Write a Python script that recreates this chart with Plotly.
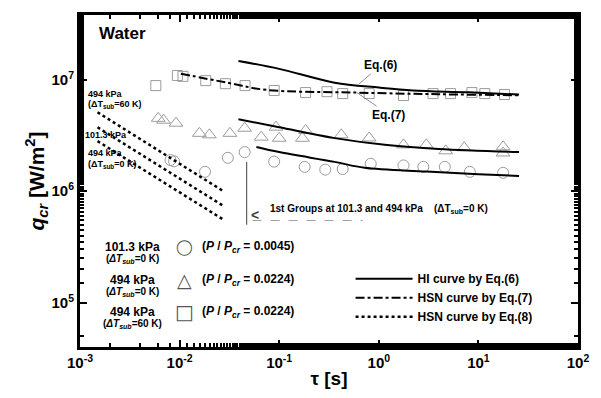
import plotly.graph_objects as go

# ---------------- data ----------------
tau_circle = [0.0081, 0.0088, 0.018, 0.0305, 0.045, 0.089, 0.18, 0.29, 0.434, 0.83, 1.77, 2.8, 4.6, 8.2, 17.7]
q_circle = [1.9e6, 1.85e6, 1.49e6, 1.99e6, 2.24e6, 1.84e6, 1.65e6, 1.56e6, 1.58e6, 1.76e6, 1.7e6, 1.65e6, 1.65e6, 1.49e6, 1.46e6]

tau_tri = [0.0061, 0.0069, 0.0092, 0.0158, 0.0199, 0.032, 0.045, 0.066, 0.093, 0.1, 0.171, 0.184,
           0.42, 0.8, 1.77, 3.0, 4.7, 7.2, 17.7, 17.7]
q_tri = [4.5e6, 4.33e6, 4.07e6, 3.3e6, 3.2e6, 3.3e6, 3.67e6, 3.05e6, 3.75e6, 2.98e6, 2.98e6, 3.5e6,
         3.2e6, 3.0e6, 2.6e6, 2.6e6, 2.3e6, 2.45e6, 2.2e6, 2.5e6]

tau_sq = [0.00577, 0.0095, 0.0108, 0.0183, 0.0288, 0.0454, 0.089, 0.184, 0.302, 0.434, 0.80, 1.77,
          3.5, 5.25, 8.6, 11.6, 18.3]
q_sq = [8.85e6, 1.09e7, 1.07e7, 9.8e6, 9.2e6, 8.85e6, 8.0e6, 7.66e6, 7.8e6, 7.5e6, 7.5e6, 7.2e6,
        7.5e6, 7.5e6, 7.66e6, 7.5e6, 7.36e6]

# HI curves, Eq.(6)
tau_hi_60 = [0.039, 0.1, 0.36, 1.0, 2.2, 8.0, 25.6]
q_hi_60 = [1.47e7, 1.25e7, 9.4e6, 8.5e6, 8.0e6, 7.7e6, 7.35e6]
tau_hi_494 = [0.039, 0.1, 0.36, 1.21, 4.0, 25.6]
q_hi_494 = [4.41e6, 3.74e6, 2.99e6, 2.59e6, 2.39e6, 2.24e6]
tau_hi_101 = [0.059, 0.1, 0.36, 0.72, 3.0, 10.0, 25.6]
q_hi_101 = [2.49e6, 2.24e6, 1.83e6, 1.62e6, 1.5e6, 1.42e6, 1.37e6]

# HSN curve, Eq.(7)
tau_hsn7 = [0.0103, 0.03, 0.074, 0.57, 4.0, 25.6]
q_hsn7 = [1.13e7, 9.4e6, 8.1e6, 7.66e6, 7.4e6, 7.25e6]

# HSN curves, Eq.(8)
tau_hsn8 = [0.0015, 0.028]
q_hsn8_60 = [5.1e6, 9.9e5]
q_hsn8_101 = [3.74e6, 7.3e5]
q_hsn8_494 = [2.81e6, 5.5e5]

# "1st Groups" marker line
tau_first = [0.0471, 0.0471]
q_first = [1.83e6, 5.0e5]
tau_arrow = [0.054, 0.69]
q_arrow = [5.45e5, 5.45e5]

# label anchor points on the curves (log10 tau, log10 q)
eq6_point = (-0.2, 6.96)
eq7_point = (-0.22, 6.884)

x_tickvals = [1e-3, 1e-2, 1e-1, 1e0, 1e1, 1e2]
x_ticktext = ["10<sup>-3</sup>", "10<sup>-2</sup>", "10<sup>-1</sup>", "10<sup>0</sup>",
              "10<sup>1</sup>", "10<sup>2</sup>"]
y_tickvals = [1e5, 1e6, 1e7]
y_ticktext = ["10<sup>5</sup>", "10<sup>6</sup>", "10<sup>7</sup>"]

# ---------------- layout helpers ----------------
W, H = 601, 398
L, R, T, B = 80, 13, 14, 51
PW, PH = W - L - R, H - T - B


def px(x):
    return (x - L) / PW


def py(y):
    return (H - B - y) / PH


FONT = "Liberation Sans, Arial, sans-serif"
GREY = "#9c9c9c"

fig = go.Figure()

mk = dict(color=GREY, line=dict(color=GREY, width=1))
fig.add_trace(go.Scatter(x=tau_circle, y=q_circle, mode="markers", showlegend=False,
                         marker=dict(symbol="circle-open", size=11, **mk)))
fig.add_trace(go.Scatter(x=tau_tri, y=q_tri, mode="markers", showlegend=False,
                         marker=dict(symbol="triangle-up-open", size=12, **mk)))
fig.add_trace(go.Scatter(x=tau_sq, y=q_sq, mode="markers", showlegend=False,
                         marker=dict(symbol="square-open", size=10, **mk)))

solid = dict(color="black", width=2, shape="spline")
fig.add_trace(go.Scatter(x=tau_hi_60, y=q_hi_60, mode="lines", line=solid,
                         name="<b>HI curve by Eq.(6)</b>", legendrank=1))
fig.add_trace(go.Scatter(x=tau_hi_494, y=q_hi_494, mode="lines", line=solid, showlegend=False))
fig.add_trace(go.Scatter(x=tau_hi_101, y=q_hi_101, mode="lines", line=solid, showlegend=False))
fig.add_trace(go.Scatter(x=tau_hsn7, y=q_hsn7, mode="lines",
                         line=dict(color="black", width=2, dash="dashdot", shape="spline"),
                         name="<b>HSN curve by Eq.(7)</b>", legendrank=2))
dot = dict(color="black", width=2.5, dash="dot")
fig.add_trace(go.Scatter(x=tau_hsn8, y=q_hsn8_60, mode="lines", line=dot,
                         name="<b>HSN curve by Eq.(8)</b>", legendrank=3))
fig.add_trace(go.Scatter(x=tau_hsn8, y=q_hsn8_101, mode="lines", line=dot, showlegend=False))
fig.add_trace(go.Scatter(x=tau_hsn8, y=q_hsn8_494, mode="lines", line=dot, showlegend=False))

fig.add_trace(go.Scatter(x=tau_first, y=q_first, mode="lines", showlegend=False,
                         line=dict(color="#606060", width=1.2)))
fig.add_trace(go.Scatter(x=tau_arrow, y=q_arrow, mode="lines", showlegend=False,
                         line=dict(color="#a0a0a0", width=1, dash="dash")))

ann = []


def text(x, y, s, size, xanchor="left", color="black", family=FONT):
    ann.append(dict(xref="paper", yref="paper", x=px(x), y=py(y), text=s, showarrow=False,
                    xanchor=xanchor, yanchor="middle", font=dict(size=size, color=color, family=family)))


text(97, 33, "<b>Water</b>", 17)
text(86, 93, "<b>494 kPa</b>", 9)
text(86, 104, "<b>(ΔT<sub>sub</sub>=60 K)</b>", 9)
text(83, 134, "<b>101.3 kPa</b>", 9)
text(86, 152, "<b>494 kPa</b>", 9)
text(86, 164, "<b>(ΔT<sub>sub</sub>=0 K)</b>", 9)

text(272, 209, "<b>1st Groups at 101.3 and 494 kPa    (ΔT<sub>sub</sub>=0 K)</b>", 10)
text(252, 215, "<b><</b>", 14, color="#404040")

# left legend
rows = [(247, "101.3 kPa", "0 K", "◯", 15, "0.0045"),
        (280, "494 kPa", "0 K", "△", 19, "0.0224"),
        (312, "494 kPa", "60 K", "□", 20, "0.0224")]
for y, p, dt, sym, ssize, ratio in rows:
    text(134, y, "<b>%s</b>" % p, 12, xanchor="center")
    text(134, y + 12, "<b>(<i>ΔT</i><sub><i>sub</i></sub>=%s)</b>" % dt, 10, xanchor="center")
    text(187, y, sym, ssize, xanchor="center", color="#555555", family="DejaVu Sans")
    text(202, y, "<b>(<i>P</i> / <i>P</i><sub><i>cr</i></sub> = %s)</b>" % ratio, 12)

# Eq labels with leader lines
ann.append(dict(x=eq6_point[0], y=eq6_point[1], xref="x", yref="y", text="<b>Eq.(6)</b>",
                showarrow=True, arrowhead=0, arrowwidth=0.8, arrowcolor="#707070", ax=22, ay=-19,
                font=dict(size=12, family=FONT, color="black")))
ann.append(dict(x=eq7_point[0], y=eq7_point[1], xref="x", yref="y", text="<b>Eq.(7)</b>",
                showarrow=True, arrowhead=0, arrowwidth=0.8, arrowcolor="#707070", ax=32, ay=22,
                font=dict(size=12, family=FONT, color="black")))

axis_common = dict(type="log", showline=True, linewidth=3, linecolor="black", mirror="allticks",
                   ticks="inside", ticklen=7, tickwidth=2, tickcolor="black", showgrid=False,
                   zeroline=False,
                   tickfont=dict(size=15, family=FONT, color="black", weight="bold"),
                   minor=dict(ticks="inside", ticklen=4, tickwidth=1.5, tickcolor="black",
                              showgrid=False))

fig.update_layout(
    width=W, height=H, autosize=False,
    margin=dict(l=L, r=R, t=T, b=B),
    plot_bgcolor="white", paper_bgcolor="white",
    font=dict(family=FONT, color="black"),
    xaxis=dict(range=[-3, 2], tickvals=x_tickvals, ticktext=x_ticktext,
               title=dict(text="<b>τ [s]</b>", font=dict(size=19, family=FONT), standoff=2),
               **axis_common),
    yaxis=dict(range=[4.602, 7.58], tickvals=y_tickvals, ticktext=y_ticktext,
               title=dict(text="<b><i>q<sub>cr</sub></i> [W/m<sup>2</sup>]</b>",
                          font=dict(size=21, family=FONT), standoff=2),
               **axis_common),
    legend=dict(x=px(356), y=py(264), xanchor="left", yanchor="top", itemwidth=57,
                bgcolor="rgba(0,0,0,0)", font=dict(size=12, family=FONT), tracegroupgap=0),
    annotations=ann,
)

fig.write_html("out.html")
